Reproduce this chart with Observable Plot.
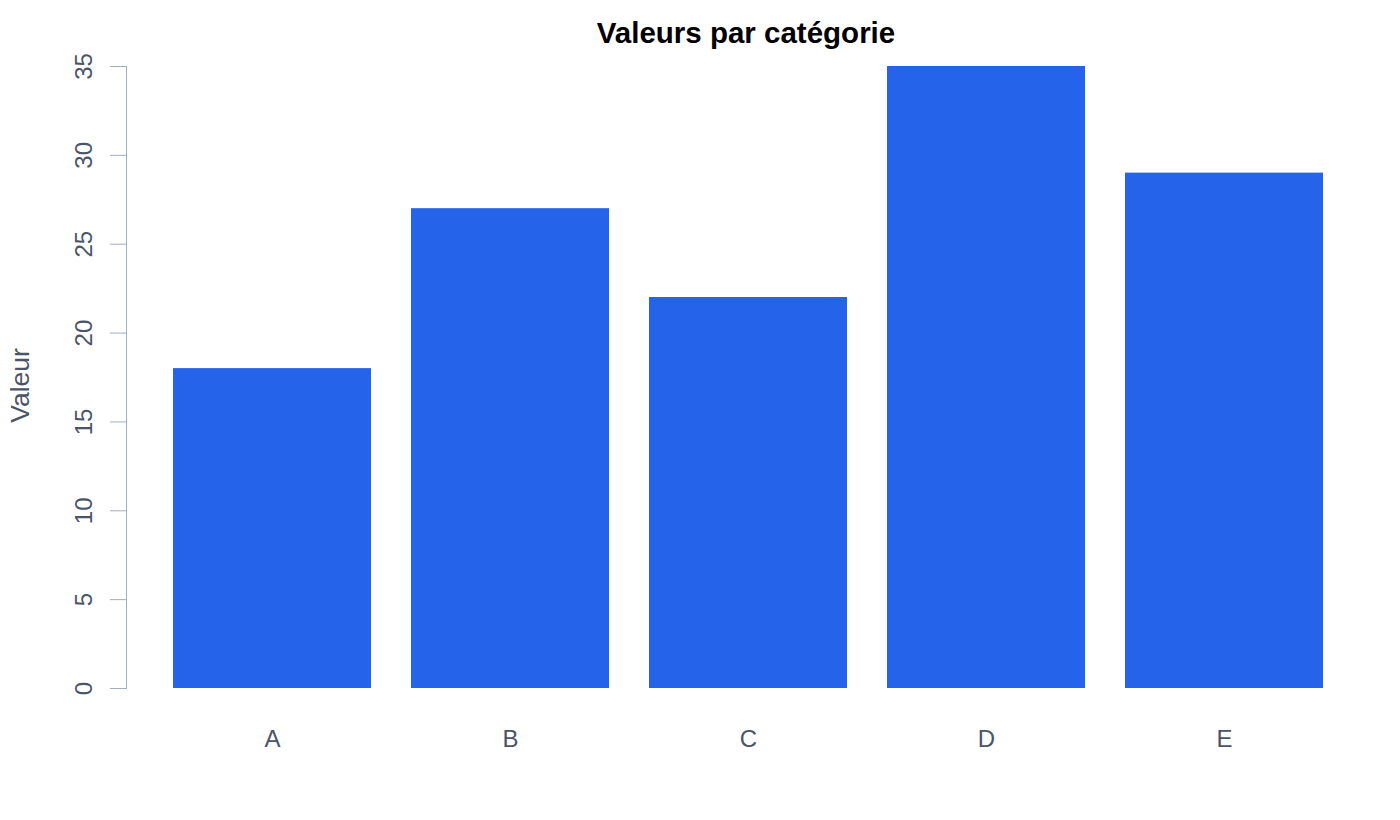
<!DOCTYPE html>
<html>
<head>
<meta charset="utf-8">
<script src="https://cdn.jsdelivr.net/npm/d3@7"></script>
<script src="https://cdn.jsdelivr.net/npm/@observablehq/plot@0.6"></script>
<style>
  html, body { margin: 0; padding: 0; background: #fff; }
  #title { font-family: "Liberation Sans", Arial, sans-serif; font-weight: bold; font-size: 29.5px; line-height: 48px; padding-top: 9px; height: 57px; text-align: center; color: #000; width: 1400px; padding-left: 92px; box-sizing: border-box; }
  #chart svg { overflow: visible; }
</style>
</head>
<body>
<div id="title">Valeurs par catégorie</div>
<div id="chart"></div>
<script>
const categories = ["A", "B", "C", "D", "E"];
const values = [18, 27, 22, 35, 29];
const yTicks = [0, 5, 10, 15, 20, 25, 30, 35];
const yLabel = ["Valeur"];

const data = categories.map((c, i) => ({category: c, value: values[i]}));

const textColor = "#4a5568";
const axisColor = "#a0aec0";

const chart = Plot.plot({
  width: 1400,
  height: 763,
  marginTop: 9,
  marginBottom: 132,
  marginLeft: 172,
  marginRight: 76,
  style: {fontFamily: "'Liberation Sans', Arial, sans-serif", fontSize: "24px", color: textColor, background: "#fff", overflow: "visible"},
  x: {domain: categories, paddingInner: 0.2 / 1.2, paddingOuter: 0, label: null},
  y: {domain: [0, 35], label: null},
  marks: [
    Plot.barY(data, {x: "category", y: "value", fill: "#2563eb"}),
    Plot.axisX({tickSize: 0, tickPadding: 41, fontSize: 24, fill: textColor, label: null}),
    Plot.axisY(yTicks, {anchor: "left", tickSize: 16, tickPadding: 19, tickRotate: -90, dx: -46, stroke: axisColor, fill: textColor, fontSize: 24, label: null}),
    Plot.frame({anchor: "left", dx: -46, stroke: axisColor}),
    Plot.text(yLabel, {text: d => d, frameAnchor: "left", rotate: -90, dx: -152, dy: 8, fontSize: 26.5, fill: textColor, textAnchor: "middle", lineAnchor: "middle"})
  ]
});
document.getElementById("chart").appendChild(chart);
</script>
</body>
</html>
